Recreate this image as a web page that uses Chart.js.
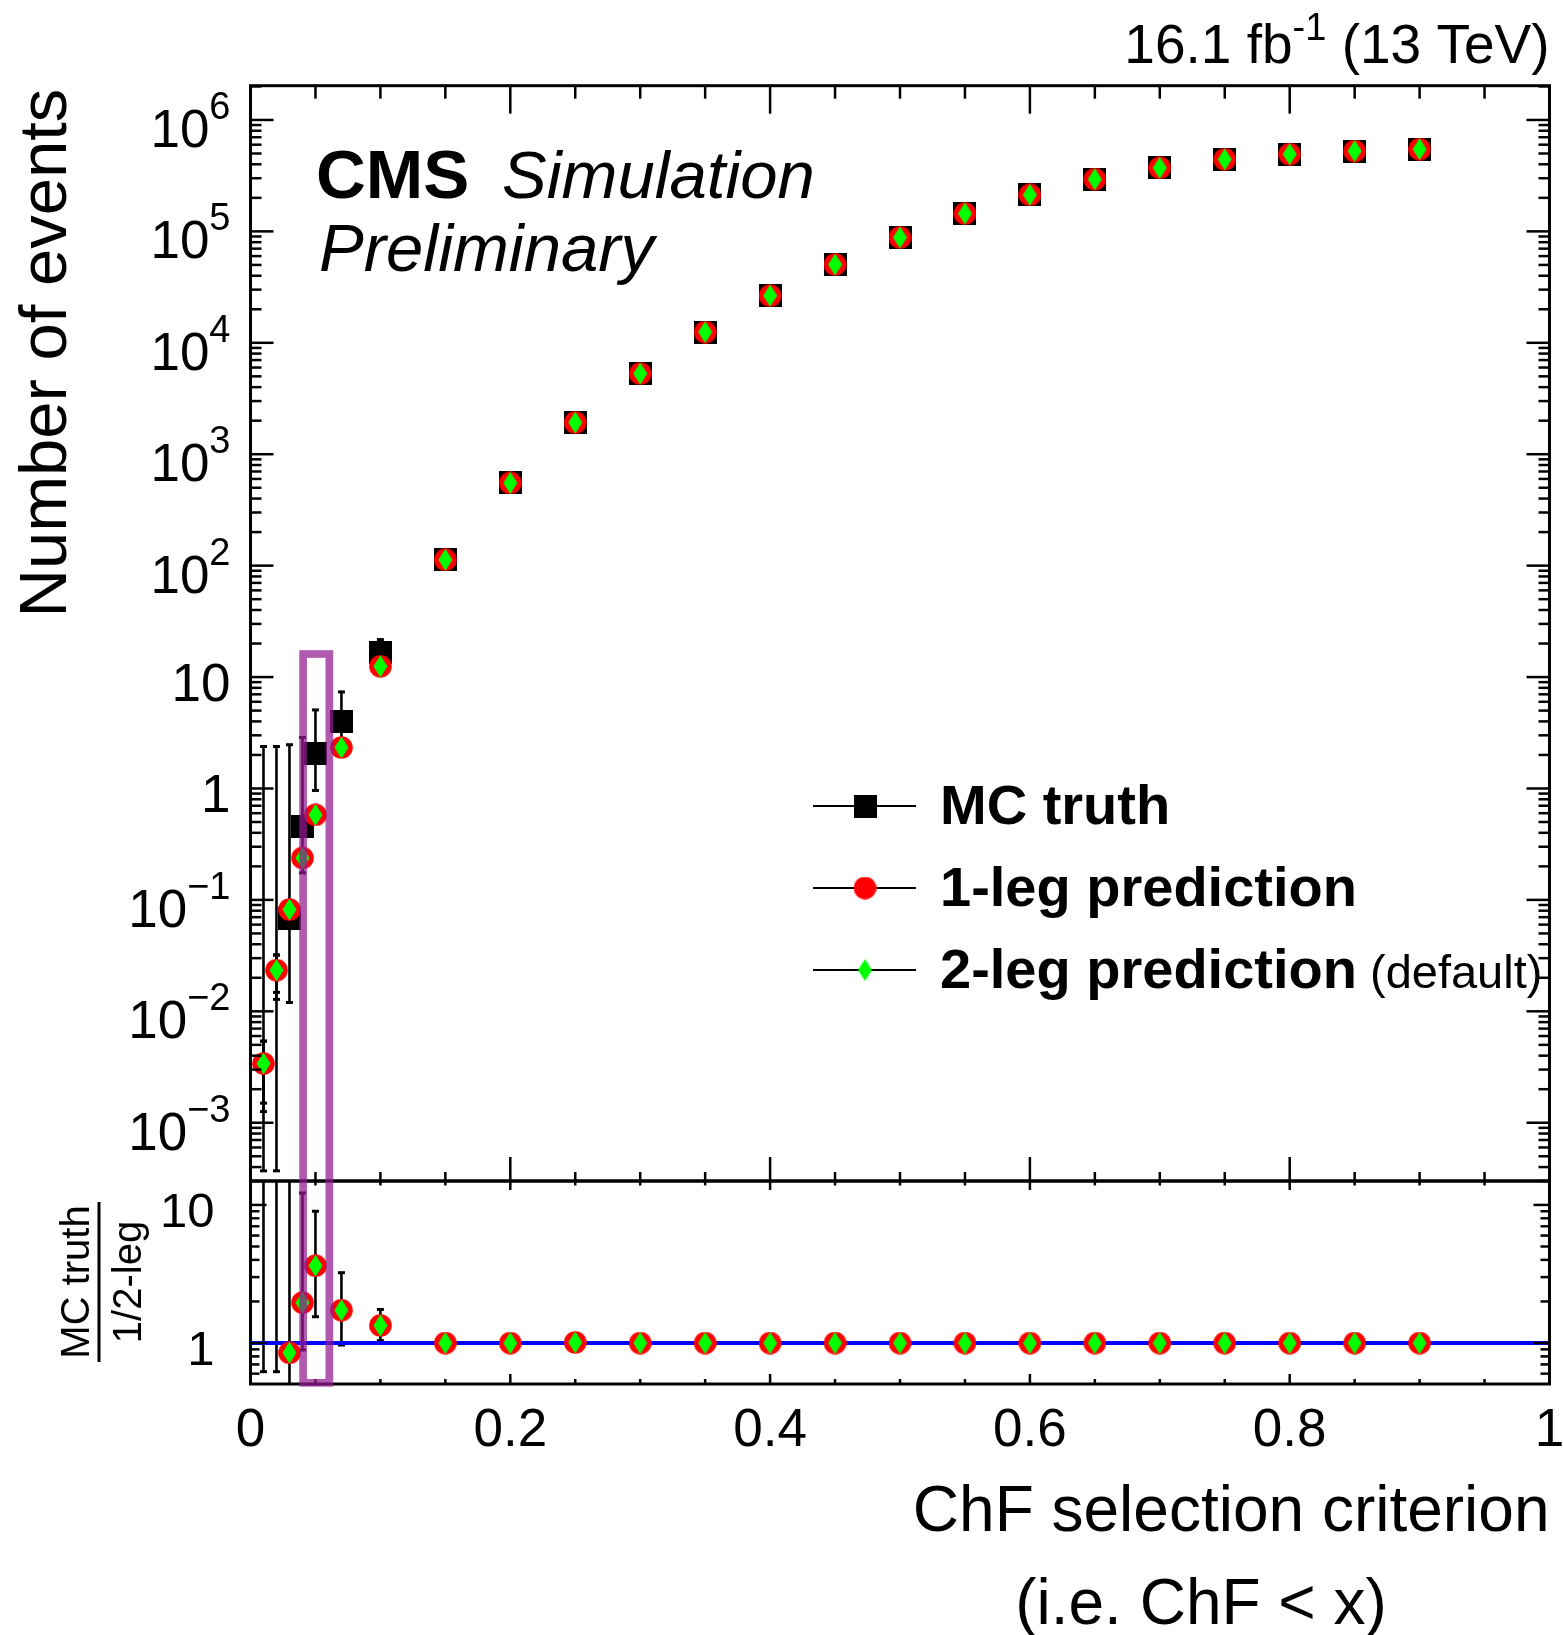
<!DOCTYPE html>
<html>
<head>
<meta charset="utf-8">
<script src="https://cdn.jsdelivr.net/npm/chart.js@4.4.1/dist/chart.umd.min.js"></script>
<style>
  html, body { margin: 0; padding: 0; background: #fff; }
  #wrap { position: relative; width: 1563px; height: 1635px; }
</style>
</head>
<body>
<div id="wrap"><canvas id="chfChart"></canvas></div>
<script>
// ChF cut values (x) and event counts
const xCuts = [0.01, 0.02, 0.03, 0.04, 0.05, 0.07, 0.1, 0.15, 0.2, 0.25, 0.3, 0.35, 0.4, 0.45, 0.5, 0.55, 0.6, 0.65, 0.7, 0.75, 0.8, 0.85, 0.9];
const mcTruth = [null, null, 0.068, 0.46, 2.06, 3.99, 16.7, 113, 553, 1925, 5290, 12480, 26500, 50500, 88300, 144600, 213000, 294000, 372000, 443000, 493000, 526000, 547000];
const oneLeg = [0.0034, 0.0234, 0.082, 0.238, 0.58, 2.33, 12.5, 113, 553, 1925, 5290, 12480, 26500, 50500, 88300, 144600, 213000, 294000, 372000, 443000, 493000, 526000, 547000];
const twoLeg = [0.0034, 0.0234, 0.082, 0.238, 0.58, 2.33, 12.5, 113, 553, 1925, 5290, 12480, 26500, 50500, 88300, 144600, 213000, 294000, 372000, 443000, 493000, 526000, 547000];

// error bar ends (missing = hidden inside marker)
const mcTruthErrLo = [3.7e-4, 3.7e-4, 0.012, 0.175, 0.96, 2.2, 13.0];
const mcTruthErrHi = [2.38, 2.38, 2.47, 2.87, 5.07, 7.36, 21.7];
const oneLegErrLo = [0.0015, 0.0148];
const oneLegErrHi = [0.0054, 0.032];
const twoLegErrLo = [0.00126, 0.0128];
const twoLegErrHi = [0.0054, 0.032];

// ratio panel: MC truth / prediction
const ratioOneLeg = [null, null, 0.85, 1.96, 3.63, 1.73, 1.34, 1.0, 1.0, 1.01, 1.0, 1.0, 1.0, 1.0, 1.0, 1.0, 1.0, 1.0, 1.0, 1.0, 1.0, 1.0, 1.0];
const ratioTwoLeg = [null, null, 0.85, 1.96, 3.63, 1.73, 1.34, 1.0, 1.0, 1.01, 1.0, 1.0, 1.0, 1.0, 1.0, 1.0, 1.0, 1.0, 1.0, 1.0, 1.0, 1.0, 1.0];
const ratioErrLo = [0.62, 0.62, 0.3, 0.89, 1.55, 0.967, 1.04];
const ratioErrHi = [50, 50, 50, 12.2, 9.0, 3.23, 1.75];
const ratioRefX = [0, 1];
const ratioRefY = [1, 1];

// axes
const xTickStep = 0.2;
const xMinorStep = 0.05;
const yTickExponents = [-3, -2, -1, 0, 1, 2, 3, 4, 5, 6];
const ratioTickValues = [1, 10];
const ratioTickLabels = ['1', '10'];

// highlighted cut (box around ChF < 0.05)
const boxX = [0.0405, 0.0607];
const boxTopValue = 16.1;
const boxBottomRatio = 0.515;

const fam = '"Liberation Sans", Helvetica, Arial, sans-serif';

function makeMarker(w, h, draw) {
  const c = document.createElement('canvas');
  c.width = w; c.height = h;
  draw(c.getContext('2d'), w, h);
  return c;
}
const squareMark = makeMarker(23, 23, (g, w, h) => { g.fillStyle = '#000'; g.fillRect(0, 0, w, h); });
const circleMark = makeMarker(23, 23, (g) => { g.fillStyle = '#ff0000'; g.beginPath(); g.arc(11.5, 11.5, 11.3, 0, Math.PI * 2); g.fill(); });
const diamondMark = makeMarker(15, 23, (g) => {
  g.fillStyle = '#00ff00'; g.beginPath();
  g.moveTo(7.5, 0.5); g.lineTo(14.5, 11.5); g.lineTo(7.5, 22.5); g.lineTo(0.5, 11.5); g.closePath(); g.fill();
});

const toPoints = (ys) => xCuts.map((x, i) => ({ x, y: ys[i] }));

const errorSets = [
  { axis: 'y', lo: mcTruthErrLo, hi: mcTruthErrHi },
  { axis: 'y', lo: oneLegErrLo, hi: oneLegErrHi },
  { axis: 'y', lo: twoLegErrLo, hi: twoLegErrHi },
  { axis: 'yr', lo: ratioErrLo, hi: ratioErrHi },
];

function seg(ctx, x1, y1, x2, y2) {
  ctx.beginPath(); ctx.moveTo(x1, y1); ctx.lineTo(x2, y2); ctx.stroke();
}

function drawErrorBars(chart) {
  const ctx = chart.ctx;
  const x = chart.scales.x;
  ctx.save();
  ctx.strokeStyle = '#000';
  errorSets.forEach((set) => {
    const ys = chart.scales[set.axis];
    set.lo.forEach((lo, i) => {
      const hi = set.hi[i];
      if (lo == null || hi == null) return;
      const px = x.getPixelForValue(xCuts[i]);
      let pTop = ys.getPixelForValue(hi);
      let pBot = ys.getPixelForValue(lo);
      const capTop = pTop >= ys.top;
      const capBot = pBot <= ys.bottom;
      pTop = Math.max(pTop, ys.top);
      pBot = Math.min(pBot, ys.bottom);
      ctx.lineWidth = 2.6;
      seg(ctx, px, pTop, px, pBot);
      ctx.lineWidth = 3;
      if (capTop) seg(ctx, px - 3.5, pTop, px + 3.5, pTop);
      if (capBot) seg(ctx, px - 3.5, pBot, px + 3.5, pBot);
    });
  });
  ctx.restore();
}

function drawFrames(chart) {
  const { ctx } = chart;
  const { x, y, yr } = chart.scales;
  ctx.save();
  ctx.strokeStyle = '#000';
  ctx.lineWidth = 3;
  ctx.strokeRect(x.left, y.top, x.right - x.left, y.bottom - y.top);
  ctx.strokeRect(x.left, yr.top, x.right - x.left, yr.bottom - yr.top);

  ctx.lineWidth = 2.5;
  const nMinor = Math.round(1 / xMinorStep);
  const perMajor = Math.round(xTickStep / xMinorStep);
  for (let k = 1; k < nMinor; k++) {
    const px = x.getPixelForValue(k * xMinorStep);
    const major = k % perMajor === 0;
    seg(ctx, px, y.top, px, y.top + (major ? 28 : 13));
    seg(ctx, px, y.bottom, px, y.bottom - (major ? 24 : 9));
    seg(ctx, px, yr.top, px, yr.top + (major ? 9 : 4.5));
    seg(ctx, px, yr.bottom, px, yr.bottom - (major ? 10 : 5));
  }
  for (let e = -4; e <= 6; e++) {
    for (let m = 1; m <= 9; m++) {
      const v = m * Math.pow(10, e);
      if (v < y.min || v > y.max) continue;
      const py = y.getPixelForValue(v);
      const len = m === 1 ? 23 : 11;
      seg(ctx, x.left, py, x.left + len, py);
      seg(ctx, x.right, py, x.right - len, py);
    }
  }
  for (let e = -1; e <= 1; e++) {
    for (let m = 1; m <= 9; m++) {
      const v = m * Math.pow(10, e);
      if (v < yr.min || v > yr.max) continue;
      const py = yr.getPixelForValue(v);
      const len = m === 1 ? 16 : 9;
      seg(ctx, x.left, py, x.left + len, py);
      seg(ctx, x.right, py, x.right - len, py);
    }
  }
  ctx.restore();
}

function drawHighlight(chart) {
  const { ctx } = chart;
  const { x, y, yr } = chart.scales;
  const l = x.getPixelForValue(boxX[0]);
  const r = x.getPixelForValue(boxX[1]);
  const t = y.getPixelForValue(boxTopValue);
  const b = yr.getPixelForValue(boxBottomRatio);
  ctx.save();
  ctx.strokeStyle = 'rgba(144, 26, 144, 0.72)';
  ctx.lineWidth = 7.7;
  ctx.strokeRect(l, t, r - l, b - t);
  ctx.restore();
}

function drawAxisText(chart) {
  const { ctx } = chart;
  const { x, y, yr } = chart.scales;
  ctx.save();
  ctx.fillStyle = '#000';
  ctx.textBaseline = 'alphabetic';
  ctx.textAlign = 'right';
  // top panel y labels
  yTickExponents.forEach((e) => {
    const py = y.getPixelForValue(Math.pow(10, e));
    const rx = x.left - 20;
    if (e === 0 || e === 1) {
      ctx.font = `53px ${fam}`;
      ctx.fillText(e === 0 ? '1' : '10', rx, py + 24);
      return;
    }
    const sup = e < 0 ? '\u2212' + (-e) : String(e);
    ctx.font = `38px ${fam}`;
    const supW = ctx.measureText(sup).width;
    ctx.fillText(sup, rx, py - 1);
    ctx.font = `53px ${fam}`;
    ctx.fillText('10', rx - supW, py + 27);
  });
  // ratio y labels
  ctx.font = `49px ${fam}`;
  ratioTickValues.forEach((v, i) => {
    ctx.fillText(ratioTickLabels[i], x.left - 36, yr.getPixelForValue(v) + 22);
  });

  // x title
  ctx.font = `64px ${fam}`;
  ctx.textAlign = 'right';
  ctx.fillText('ChF selection criterion', x.right, 1531);
  ctx.textAlign = 'center';
  ctx.fillText('(i.e. ChF < x)', 1201, 1624);

  // y title
  ctx.save();
  ctx.translate(66, y.top + 3);
  ctx.rotate(-Math.PI / 2);
  ctx.font = `67px ${fam}`;
  ctx.textAlign = 'right';
  ctx.fillText('Number of events', 0, 0);
  ctx.restore();

  // ratio title as a fraction
  const fy = 1282;
  ctx.save();
  ctx.translate(0, fy);
  ctx.rotate(-Math.PI / 2);
  ctx.font = `40px ${fam}`;
  ctx.textAlign = 'center';
  ctx.fillText('MC truth', 0, 89);
  ctx.fillText('1/2-leg', 0, 141);
  ctx.lineWidth = 3;
  ctx.strokeStyle = '#000';
  seg(ctx, -80, 99, 80, 99);
  ctx.restore();
  ctx.restore();
}

function drawHeaders(chart) {
  const { ctx } = chart;
  const { x } = chart.scales;
  ctx.save();
  ctx.fillStyle = '#000';
  ctx.textBaseline = 'alphabetic';
  ctx.textAlign = 'left';
  // lumi label, right aligned
  const parts = [['16.1 fb', 55, 0], ['-1', 38, -23], [' (13 TeV)', 55, 0]];
  let total = 0;
  parts.forEach((p) => { ctx.font = `${p[1]}px ${fam}`; p.push(ctx.measureText(p[0]).width); total += p[3]; });
  let cx = x.right - total;
  parts.forEach((p) => { ctx.font = `${p[1]}px ${fam}`; ctx.fillText(p[0], cx, 63 + p[2]); cx += p[3]; });

  ctx.font = `bold 69px ${fam}`;
  ctx.fillText('CMS', 316, 198);
  ctx.font = `italic 67px ${fam}`;
  ctx.fillText('Simulation', 502, 198);
  ctx.fillText('Preliminary', 319, 271);
  ctx.restore();
}

const legendItems = [
  { label: 'MC truth', extra: '', mark: squareMark, y: 806 },
  { label: '1-leg prediction', extra: '', mark: circleMark, y: 888 },
  { label: '2-leg prediction', extra: ' (default)', mark: diamondMark, y: 970 },
];

function drawLegend(chart) {
  const { ctx } = chart;
  ctx.save();
  ctx.strokeStyle = '#000';
  ctx.fillStyle = '#000';
  ctx.lineWidth = 2;
  ctx.textBaseline = 'alphabetic';
  ctx.textAlign = 'left';
  legendItems.forEach((it) => {
    seg(ctx, 813, it.y, 916, it.y);
    ctx.drawImage(it.mark, 865 - it.mark.width / 2, it.y - it.mark.height / 2);
    ctx.font = `bold 56px ${fam}`;
    ctx.fillText(it.label, 940, it.y + 18);
    if (it.extra) {
      const w = ctx.measureText(it.label).width;
      ctx.font = `47px ${fam}`;
      ctx.fillText(it.extra, 940 + w, it.y + 18);
    }
  });
  ctx.restore();
}

const rootPlot = {
  id: 'rootPlot',
  beforeDatasetsDraw(chart) { drawErrorBars(chart); },
  afterDatasetsDraw(chart) { drawFrames(chart); },
  afterDraw(chart) {
    drawHighlight(chart);
    drawAxisText(chart);
    drawLegend(chart);
    drawHeaders(chart);
  },
};

const hidden = { ticks: { display: false }, grid: { display: false }, border: { display: false } };

new Chart(document.getElementById('chfChart'), {
  type: 'scatter',
  data: {
    datasets: [
      {
        label: 'MC truth', data: toPoints(mcTruth), yAxisID: 'y', order: 3,
        pointStyle: squareMark, pointRadius: 12, pointBorderWidth: 0,
      },
      {
        label: '1-leg prediction', data: toPoints(oneLeg), yAxisID: 'y', order: 2,
        pointStyle: circleMark, pointRadius: 12, pointBorderWidth: 0,
      },
      {
        label: '2-leg prediction', data: toPoints(twoLeg), yAxisID: 'y', order: 1,
        pointStyle: diamondMark, pointRadius: 12, pointBorderWidth: 0,
      },
      {
        type: 'line', label: 'unity', yAxisID: 'yr', order: 10,
        data: ratioRefX.map((x, i) => ({ x, y: ratioRefY[i] })),
        borderColor: '#0000ff', borderWidth: 4, pointRadius: 0, fill: false,
      },
      {
        label: 'ratio 1-leg', data: toPoints(ratioOneLeg), yAxisID: 'yr', order: 5,
        pointStyle: circleMark, pointRadius: 12, pointBorderWidth: 0,
      },
      {
        label: 'ratio 2-leg', data: toPoints(ratioTwoLeg), yAxisID: 'yr', order: 4,
        pointStyle: diamondMark, pointRadius: 12, pointBorderWidth: 0,
      },
    ],
  },
  options: {
    responsive: true,
    maintainAspectRatio: false,
    devicePixelRatio: 1,
    animation: false,
    events: [],
    layout: { padding: { top: 85.7, right: 13.5, bottom: 0, left: 0 } },
    plugins: { legend: { display: false }, tooltip: { enabled: false } },
    scales: {
      x: {
        type: 'linear', position: 'bottom', min: 0, max: 1,
        grid: { display: false }, border: { display: false },
        ticks: {
          stepSize: xTickStep, maxRotation: 0, autoSkip: false, padding: 8,
          color: '#000', font: { family: fam, size: 53 },
          callback: (v) => String(Number(v.toFixed(2))),
        },
        afterFit(s) { s.height = 251; s.paddingLeft = 0; s.paddingRight = 0; },
      },
      yr: {
        type: 'logarithmic', position: 'left', stack: 'panels', stackWeight: 203, weight: 0,
        min: 0.505, max: 14.9, ...hidden,
        afterFit(s) { s.width = 250.5; },
      },
      y: {
        type: 'logarithmic', position: 'left', stack: 'panels', stackWeight: 1095.3, weight: 1,
        min: 3.17e-4, max: 2.03e6, ...hidden,
        afterFit(s) { s.width = 250.5; },
      },
    },
  },
  plugins: [rootPlot],
});
</script>
</body>
</html>
